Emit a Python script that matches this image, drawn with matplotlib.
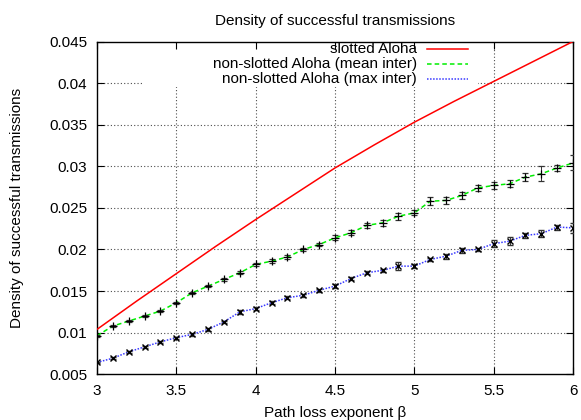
import matplotlib
matplotlib.use("Agg")
import matplotlib.pyplot as plt
from matplotlib.lines import Line2D
from matplotlib.patches import Rectangle
import numpy as np

plt.rcParams['font.family'] = ['Liberation Sans', 'DejaVu Sans']

# ---- data ----
beta = [3.0, 3.1, 3.2, 3.3, 3.4, 3.5, 3.6, 3.7, 3.8, 3.9,
        4.0, 4.1, 4.2, 4.3, 4.4, 4.5, 4.6, 4.7, 4.8, 4.9,
        5.0, 5.1, 5.2, 5.3, 5.4, 5.5, 5.6, 5.7, 5.8, 5.9, 6.0]

slotted_beta = [3.0, 3.25, 3.5, 3.75, 4.0, 4.25, 4.5, 4.75, 5.0, 5.25, 5.5, 5.75, 6.0]
slotted = [0.0104, 0.0138, 0.0171, 0.0204, 0.0236, 0.0267, 0.0298,
           0.0326, 0.0353, 0.0378, 0.0402, 0.0426, 0.0450]

mean_inter = [0.00964, 0.0108, 0.0114, 0.0120, 0.0126, 0.0136, 0.0148, 0.0156, 0.0164, 0.0172,
              0.0182, 0.0186, 0.0191, 0.0200, 0.0206, 0.0214, 0.0220, 0.0229, 0.0232, 0.0240,
              0.0244, 0.0258, 0.0259, 0.0265, 0.0274, 0.0277, 0.0279, 0.0287, 0.0291, 0.0298, 0.0304]
mean_err = [0.0001, 0.0001, 0.0001, 0.0001, 0.0001, 0.00015, 0.00015, 0.00015, 0.0002, 0.0002,
            0.0002, 0.0002, 0.0002, 0.0002, 0.0002, 0.0003, 0.0003, 0.0003, 0.0004, 0.0004,
            0.0003, 0.0005, 0.0004, 0.0004, 0.0004, 0.0004, 0.0004, 0.0005, 0.0009, 0.0004, 0.0009]

max_inter = [0.00643, 0.00693, 0.0077, 0.0083, 0.0089, 0.0094, 0.0098, 0.0104, 0.0113, 0.0125,
             0.0129, 0.0136, 0.0142, 0.0145, 0.0151, 0.0156, 0.0165, 0.0172, 0.0175, 0.0180,
             0.0180, 0.0188, 0.0192, 0.0199, 0.0200, 0.0207, 0.0210, 0.0217, 0.0219, 0.0227, 0.0226]
max_err = [0.0001, 0.0001, 0.0001, 0.0001, 0.0001, 0.0001, 0.00015, 0.00015, 0.00015, 0.0002,
           0.0002, 0.0002, 0.0002, 0.0002, 0.0002, 0.0002, 0.0002, 0.0002, 0.0002, 0.00045,
           0.0002, 0.0002, 0.0003, 0.0003, 0.0002, 0.0004, 0.0005, 0.0003, 0.0004, 0.0003, 0.0006]

xticks = [3, 3.5, 4, 4.5, 5, 5.5, 6]
xticklabels = ['3', '3.5', '4', '4.5', '5', '5.5', '6']
yticks = [0.005, 0.01, 0.015, 0.02, 0.025, 0.03, 0.035, 0.04, 0.045]
yticklabels = ['0.005', '0.01', '0.015', '0.02', '0.025', '0.03', '0.035', '0.04', '0.045']

labels = ['slotted Aloha', 'non-slotted Aloha (mean inter)', 'non-slotted Aloha (max inter)']

# ---- figure ----
fig = plt.figure(figsize=(5.81, 4.20), dpi=100)
ax = fig.add_axes([97/581, 1 - 374.3/420, (573-97)/581, (374.3-41.5)/420])

ax.set_xlim(3, 6)
ax.set_ylim(0.005, 0.045)

grid_kw = dict(color='0.3', lw=0.8, ls=(0, (1, 2)), zorder=0.5)
for xv in xticks[1:-1]:
    ax.axvline(xv, **grid_kw)
for yv in yticks[1:-1]:
    ax.axhline(yv, **grid_kw)

# opaque key background
ax.add_patch(Rectangle((0.095, 0.862), 0.705, 0.138, transform=ax.transAxes,
                       facecolor='white', edgecolor='none', zorder=0.8))

red = '#ff0000'
green = '#00ee00'
blue = '#3838ff'

ax.plot(slotted_beta, slotted, color=red, lw=1.1, zorder=3)

ax.plot(beta, mean_inter, color=green, lw=1.1, ls=(0, (3, 2)), zorder=3)
ax.errorbar(beta, mean_inter, yerr=mean_err, fmt='+', color='black', ms=6, mew=0.9,
            elinewidth=0.7, capsize=2.5, capthick=0.8, ecolor='0.2', zorder=4)

ax.plot(beta, max_inter, color=blue, lw=1.1, ls=(0, (1, 1)), zorder=3)
ax.errorbar(beta, max_inter, yerr=max_err, fmt='x', color='black', ms=4, mew=1.0,
            elinewidth=0.7, capsize=2.5, capthick=0.8, ecolor='0.2', zorder=4)

ax.set_xticks(xticks)
ax.set_xticklabels(xticklabels)
ax.set_yticks(yticks)
ax.set_yticklabels(yticklabels)
ax.tick_params(direction='in', length=5, width=0.8, top=True, right=True,
               labelsize=11, pad=7)
for s in ax.spines.values():
    s.set_linewidth(1.0)

ax.set_xlabel('Path loss exponent β', fontsize=11, labelpad=6)
ax.set_ylabel('Density of successful transmissions', fontsize=11, labelpad=18)
ax.set_title('Density of successful transmissions', fontsize=11, pad=12)

# key (gnuplot style: right-aligned text, sample to the right)
rows_y = [0.977, 0.932, 0.886]
styles = [dict(color=red, lw=1.1, ls='-'),
          dict(color=green, lw=1.1, ls=(0, (3, 2))),
          dict(color=blue, lw=1.1, ls=(0, (1, 1)))]
for lab, yy, st in zip(labels, rows_y, styles):
    ax.text(0.672, yy, lab, transform=ax.transAxes, ha='right', va='center',
            fontsize=11, zorder=5)
    ax.add_line(Line2D([0.693, 0.780], [yy, yy], transform=ax.transAxes, zorder=5, **st))

fig.savefig('out.png', dpi=100)
